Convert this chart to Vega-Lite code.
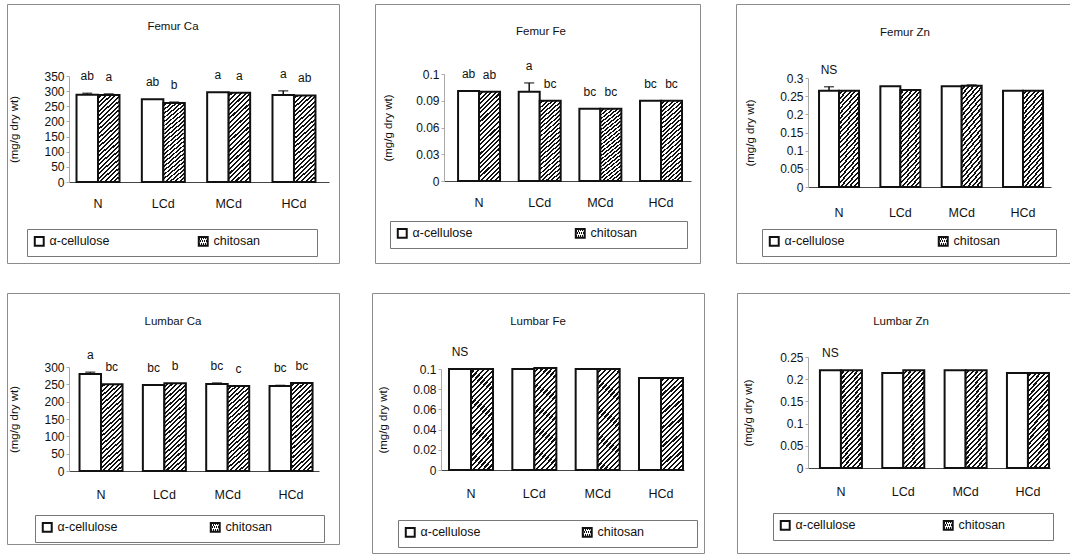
{
  "$schema": "https://vega.github.io/schema/vega-lite/v6.json",
  "padding": {"left": 6, "top": 3, "right": 0, "bottom": 0},
  "params": [
    {"name": "hatch", "value": {"gradient": "linear", "x1": 0, "y1": 0, "x2": 0.272, "y2": 1.17, "stops": [
      {"offset":0,"color":"#fff"},{"offset":0.0229,"color":"#fff"},{"offset":0.0229,"color":"#111"},{"offset":0.0417,"color":"#111"},
      {"offset":0.0417,"color":"#fff"},{"offset":0.0646,"color":"#fff"},{"offset":0.0646,"color":"#111"},{"offset":0.0833,"color":"#111"},
      {"offset":0.0833,"color":"#fff"},{"offset":0.1063,"color":"#fff"},{"offset":0.1063,"color":"#111"},{"offset":0.125,"color":"#111"},
      {"offset":0.125,"color":"#fff"},{"offset":0.1479,"color":"#fff"},{"offset":0.1479,"color":"#111"},{"offset":0.1667,"color":"#111"},
      {"offset":0.1667,"color":"#fff"},{"offset":0.1896,"color":"#fff"},{"offset":0.1896,"color":"#111"},{"offset":0.2083,"color":"#111"},
      {"offset":0.2083,"color":"#fff"},{"offset":0.2313,"color":"#fff"},{"offset":0.2313,"color":"#111"},{"offset":0.25,"color":"#111"},
      {"offset":0.25,"color":"#fff"},{"offset":0.2729,"color":"#fff"},{"offset":0.2729,"color":"#111"},{"offset":0.2917,"color":"#111"},
      {"offset":0.2917,"color":"#fff"},{"offset":0.3146,"color":"#fff"},{"offset":0.3146,"color":"#111"},{"offset":0.3333,"color":"#111"},
      {"offset":0.3333,"color":"#fff"},{"offset":0.3563,"color":"#fff"},{"offset":0.3563,"color":"#111"},{"offset":0.375,"color":"#111"},
      {"offset":0.375,"color":"#fff"},{"offset":0.3979,"color":"#fff"},{"offset":0.3979,"color":"#111"},{"offset":0.4167,"color":"#111"},
      {"offset":0.4167,"color":"#fff"},{"offset":0.4396,"color":"#fff"},{"offset":0.4396,"color":"#111"},{"offset":0.4583,"color":"#111"},
      {"offset":0.4583,"color":"#fff"},{"offset":0.4813,"color":"#fff"},{"offset":0.4813,"color":"#111"},{"offset":0.5,"color":"#111"},
      {"offset":0.5,"color":"#fff"},{"offset":0.5229,"color":"#fff"},{"offset":0.5229,"color":"#111"},{"offset":0.5417,"color":"#111"},
      {"offset":0.5417,"color":"#fff"},{"offset":0.5646,"color":"#fff"},{"offset":0.5646,"color":"#111"},{"offset":0.5833,"color":"#111"},
      {"offset":0.5833,"color":"#fff"},{"offset":0.6063,"color":"#fff"},{"offset":0.6063,"color":"#111"},{"offset":0.625,"color":"#111"},
      {"offset":0.625,"color":"#fff"},{"offset":0.6479,"color":"#fff"},{"offset":0.6479,"color":"#111"},{"offset":0.6667,"color":"#111"},
      {"offset":0.6667,"color":"#fff"},{"offset":0.6896,"color":"#fff"},{"offset":0.6896,"color":"#111"},{"offset":0.7083,"color":"#111"},
      {"offset":0.7083,"color":"#fff"},{"offset":0.7313,"color":"#fff"},{"offset":0.7313,"color":"#111"},{"offset":0.75,"color":"#111"},
      {"offset":0.75,"color":"#fff"},{"offset":0.7729,"color":"#fff"},{"offset":0.7729,"color":"#111"},{"offset":0.7917,"color":"#111"},
      {"offset":0.7917,"color":"#fff"},{"offset":0.8146,"color":"#fff"},{"offset":0.8146,"color":"#111"},{"offset":0.8333,"color":"#111"},
      {"offset":0.8333,"color":"#fff"},{"offset":0.8563,"color":"#fff"},{"offset":0.8563,"color":"#111"},{"offset":0.875,"color":"#111"},
      {"offset":0.875,"color":"#fff"},{"offset":0.8979,"color":"#fff"},{"offset":0.8979,"color":"#111"},{"offset":0.9167,"color":"#111"},
      {"offset":0.9167,"color":"#fff"},{"offset":0.9396,"color":"#fff"},{"offset":0.9396,"color":"#111"},{"offset":0.9583,"color":"#111"},
      {"offset":0.9583,"color":"#fff"},{"offset":0.9813,"color":"#fff"},{"offset":0.9813,"color":"#111"},{"offset":1,"color":"#111"}
    ]}}
  ],
  "datasets": {
    "fca": [
      {"g":"N","d":"α-cellulose","v":288,"hi":293,"lab":"ab"},
      {"g":"N","d":"chitosan","v":287,"hi":291,"lab":"a"},
      {"g":"LCd","d":"α-cellulose","v":273,"hi":273,"lab":"ab"},
      {"g":"LCd","d":"chitosan","v":261,"hi":264,"lab":"b"},
      {"g":"MCd","d":"α-cellulose","v":296,"hi":296,"lab":"a"},
      {"g":"MCd","d":"chitosan","v":295,"hi":295,"lab":"a"},
      {"g":"HCd","d":"α-cellulose","v":287,"hi":301,"lab":"a"},
      {"g":"HCd","d":"chitosan","v":286,"hi":286,"lab":"ab"}
    ],
    "ffe": [
      {"g":"N","d":"α-cellulose","v":0.101,"hi":0.101,"lab":"ab"},
      {"g":"N","d":"chitosan","v":0.1,"hi":0.1,"lab":"ab"},
      {"g":"LCd","d":"α-cellulose","v":0.1,"hi":0.11,"lab":"a"},
      {"g":"LCd","d":"chitosan","v":0.09,"hi":0.09,"lab":"bc"},
      {"g":"MCd","d":"α-cellulose","v":0.081,"hi":0.081,"lab":"bc"},
      {"g":"MCd","d":"chitosan","v":0.081,"hi":0.081,"lab":"bc"},
      {"g":"HCd","d":"α-cellulose","v":0.09,"hi":0.09,"lab":"bc"},
      {"g":"HCd","d":"chitosan","v":0.09,"hi":0.09,"lab":"bc"}
    ],
    "fzn": [
      {"g":"N","d":"α-cellulose","v":0.265,"hi":0.276,"lab":"NS"},
      {"g":"N","d":"chitosan","v":0.265,"hi":0.265},
      {"g":"LCd","d":"α-cellulose","v":0.277,"hi":0.277},
      {"g":"LCd","d":"chitosan","v":0.267,"hi":0.267},
      {"g":"MCd","d":"α-cellulose","v":0.277,"hi":0.277},
      {"g":"MCd","d":"chitosan","v":0.279,"hi":0.281},
      {"g":"HCd","d":"α-cellulose","v":0.265,"hi":0.265},
      {"g":"HCd","d":"chitosan","v":0.265,"hi":0.265}
    ],
    "lca": [
      {"g":"N","d":"α-cellulose","v":280,"hi":285,"lab":"a"},
      {"g":"N","d":"chitosan","v":250,"hi":250,"lab":"bc"},
      {"g":"LCd","d":"α-cellulose","v":248,"hi":248,"lab":"bc"},
      {"g":"LCd","d":"chitosan","v":253,"hi":253,"lab":"b"},
      {"g":"MCd","d":"α-cellulose","v":251,"hi":254,"lab":"bc"},
      {"g":"MCd","d":"chitosan","v":245,"hi":245,"lab":"c"},
      {"g":"HCd","d":"α-cellulose","v":245,"hi":247,"lab":"bc"},
      {"g":"HCd","d":"chitosan","v":254,"hi":254,"lab":"bc"}
    ],
    "lfe": [
      {"g":"N","d":"α-cellulose","v":0.1,"hi":0.1,"lab":"NS"},
      {"g":"N","d":"chitosan","v":0.1,"hi":0.1},
      {"g":"LCd","d":"α-cellulose","v":0.1,"hi":0.1},
      {"g":"LCd","d":"chitosan","v":0.101,"hi":0.101},
      {"g":"MCd","d":"α-cellulose","v":0.1,"hi":0.1},
      {"g":"MCd","d":"chitosan","v":0.1,"hi":0.1},
      {"g":"HCd","d":"α-cellulose","v":0.091,"hi":0.091},
      {"g":"HCd","d":"chitosan","v":0.091,"hi":0.091}
    ],
    "lzn": [
      {"g":"N","d":"α-cellulose","v":0.22,"hi":0.22,"lab":"NS"},
      {"g":"N","d":"chitosan","v":0.22,"hi":0.22},
      {"g":"LCd","d":"α-cellulose","v":0.214,"hi":0.214},
      {"g":"LCd","d":"chitosan","v":0.22,"hi":0.22},
      {"g":"MCd","d":"α-cellulose","v":0.22,"hi":0.22},
      {"g":"MCd","d":"chitosan","v":0.22,"hi":0.22},
      {"g":"HCd","d":"α-cellulose","v":0.214,"hi":0.214},
      {"g":"HCd","d":"chitosan","v":0.214,"hi":0.214}
    ]
  },
  "resolve": {"scale": {"fill": "independent", "xOffset": "independent"}, "legend": {"fill": "independent"}},
  "spacing": 28,
  "vconcat": [
    {
      "spacing": 34,
      "resolve": {"scale": {"fill": "independent", "xOffset": "independent"}, "legend": {"fill": "independent"}},
      "hconcat": [
        {
          "width": 332, "height": 259,
          "data": {"name": "fca"},
          "title": {"text": "Femur Ca", "offset": -28.5},
          "encoding": {
            "x": {"field": "g", "type": "nominal", "sort": ["N","LCd","MCd","HCd"], "title": null,
                  "scale": {"range": [62, 322], "paddingInner": 0.342, "paddingOuter": 0.161, "align": 0.357},
                  "axis": {"offset": -81, "labelPadding": 15}},
            "xOffset": {"field": "d", "type": "nominal", "sort": ["α-cellulose","chitosan"], "scale": {"paddingInner": 0, "paddingOuter": 0}},
            "y": {"field": "v", "type": "quantitative", "title": "(mg/g dry wt)",
                  "scale": {"domain": [0, 350], "range": [178, 72], "nice": false},
                  "axis": {"offset": -62, "values": [0,50,100,150,200,250,300,350], "format": "~r", "titleX": -55, "titleY": 125}}
          },
          "layer": [
            {"mark": "bar",
             "encoding": {"fill": {"field": "d", "type": "nominal",
               "scale": {"domain": ["α-cellulose","chitosan"], "range": ["white", {"expr": "hatch"}]},
               "legend": {"legendX": 20, "legendY": 225, "columnPadding": 84, "title": " ", "titleOrient": "right", "titlePadding": 51}}}},
            {"transform": [{"filter": "datum.hi > datum.v"}], "mark": "rule", "encoding": {"y2": {"field": "hi"}}},
            {"transform": [{"filter": "datum.hi > datum.v"}], "mark": {"type": "tick", "orient": "horizontal", "size": 10},
             "encoding": {"y": {"field": "hi", "type": "quantitative", "title": "(mg/g dry wt)",
                  "scale": {"domain": [0, 350], "range": [178, 72], "nice": false},
                  "axis": {"offset": -62, "values": [0,50,100,150,200,250,300,350], "format": "~r", "titleX": -55, "titleY": 125}}}},
            {"transform": [{"filter": "isValid(datum.lab)"}], "mark": {"type": "text", "dy": -17},
             "encoding": {"text": {"field": "lab"}, "y": {"field": "hi", "type": "quantitative", "title": "(mg/g dry wt)",
                  "scale": {"domain": [0, 350], "range": [178, 72], "nice": false},
                  "axis": {"offset": -62, "values": [0,50,100,150,200,250,300,350], "format": "~r", "titleX": -55, "titleY": 125}}}}
          ]
        },
        {
          "width": 325, "height": 259,
          "data": {"name": "ffe"},
          "title": {"text": "Femur Fe", "offset": -33.5, "dx": 3.5},
          "encoding": {
            "x": {"field": "g", "type": "nominal", "sort": ["N","LCd","MCd","HCd"], "title": null,
                  "scale": {"range": [69, 316], "paddingInner": 0.308, "paddingOuter": 0.19, "align": 0.61},
                  "axis": {"offset": -82, "labelPadding": 15}},
            "xOffset": {"field": "d", "type": "nominal", "sort": ["α-cellulose","chitosan"], "scale": {"paddingInner": 0, "paddingOuter": 0}},
            "y": {"field": "v", "type": "quantitative", "title": "(mg/g dry wt)",
                  "scale": {"domain": [0, 0.12], "range": [177, 70], "nice": false},
                  "axis": {"offset": -69, "values": [0,0.03,0.06,0.09,0.12], "format": "~r", "titleX": -56, "titleY": 123.5}}
          },
          "layer": [
            {"mark": "bar",
             "encoding": {"fill": {"field": "d", "type": "nominal",
               "scale": {"domain": ["α-cellulose","chitosan"], "range": ["white", {"expr": "hatch"}]},
               "legend": {"legendX": 15, "legendY": 217, "columnPadding": 98, "title": " ", "titleOrient": "right", "titlePadding": 44}}}},
            {"transform": [{"filter": "datum.hi > datum.v"}], "mark": "rule", "encoding": {"y2": {"field": "hi"}}},
            {"transform": [{"filter": "datum.hi > datum.v"}], "mark": {"type": "tick", "orient": "horizontal", "size": 10},
             "encoding": {"y": {"field": "hi", "type": "quantitative", "title": "(mg/g dry wt)",
                  "scale": {"domain": [0, 0.12], "range": [177, 70], "nice": false},
                  "axis": {"offset": -69, "values": [0,0.03,0.06,0.09,0.12], "format": "~r", "titleX": -56, "titleY": 123.5}}}},
            {"transform": [{"filter": "isValid(datum.lab)"}], "mark": {"type": "text", "dy": -17},
             "encoding": {"text": {"field": "lab"}, "y": {"field": "hi", "type": "quantitative", "title": "(mg/g dry wt)",
                  "scale": {"domain": [0, 0.12], "range": [177, 70], "nice": false},
                  "axis": {"offset": -69, "values": [0,0.03,0.06,0.09,0.12], "format": "~r", "titleX": -56, "titleY": 123.5}}}}
          ]
        },
        {
          "width": 335, "height": 259,
          "data": {"name": "fzn"},
          "title": {"text": "Femur Zn", "offset": -34.5, "dx": 1.5},
          "encoding": {
            "x": {"field": "g", "type": "nominal", "sort": ["N","LCd","MCd","HCd"], "title": null,
                  "scale": {"range": [72, 315], "paddingInner": 0.348, "paddingOuter": 0.155, "align": 0.58},
                  "axis": {"offset": -76, "labelPadding": 19}},
            "xOffset": {"field": "d", "type": "nominal", "sort": ["α-cellulose","chitosan"], "scale": {"paddingInner": 0, "paddingOuter": 0}},
            "y": {"field": "v", "type": "quantitative", "title": "(mg/g dry wt)",
                  "scale": {"domain": [0, 0.3], "range": [183, 74], "nice": false},
                  "axis": {"offset": -72, "values": [0,0.05,0.1,0.15,0.2,0.25,0.3], "format": "~r", "titleX": -58, "titleY": 128.5}}
          },
          "layer": [
            {"mark": "bar",
             "encoding": {"fill": {"field": "d", "type": "nominal",
               "scale": {"domain": ["α-cellulose","chitosan"], "range": ["white", {"expr": "hatch"}]},
               "legend": {"legendX": 26, "legendY": 225, "columnPadding": 89, "title": " ", "titleOrient": "right", "titlePadding": 50}}}},
            {"transform": [{"filter": "datum.hi > datum.v"}], "mark": "rule", "encoding": {"y2": {"field": "hi"}}},
            {"transform": [{"filter": "datum.hi > datum.v"}], "mark": {"type": "tick", "orient": "horizontal", "size": 10},
             "encoding": {"y": {"field": "hi", "type": "quantitative", "title": "(mg/g dry wt)",
                  "scale": {"domain": [0, 0.3], "range": [183, 74], "nice": false},
                  "axis": {"offset": -72, "values": [0,0.05,0.1,0.15,0.2,0.25,0.3], "format": "~r", "titleX": -58, "titleY": 128.5}}}},
            {"transform": [{"filter": "isValid(datum.lab)"}], "mark": {"type": "text", "dy": -17},
             "encoding": {"text": {"field": "lab"}, "y": {"field": "hi", "type": "quantitative", "title": "(mg/g dry wt)",
                  "scale": {"domain": [0, 0.3], "range": [183, 74], "nice": false},
                  "axis": {"offset": -72, "values": [0,0.05,0.1,0.15,0.2,0.25,0.3], "format": "~r", "titleX": -58, "titleY": 128.5}}}}
          ]
        }
      ]
    },
    {
      "spacing": 31,
      "resolve": {"scale": {"fill": "independent", "xOffset": "independent"}, "legend": {"fill": "independent"}},
      "hconcat": [
        {
          "width": 332, "height": 251,
          "data": {"name": "lca"},
          "title": {"text": "Lumbar Ca", "offset": -34.5},
          "encoding": {
            "x": {"field": "g", "type": "nominal", "sort": ["N","LCd","MCd","HCd"], "title": null,
                  "scale": {"range": [62, 312], "paddingInner": 0.321, "paddingOuter": 0.134, "align": 0.62},
                  "axis": {"offset": -73, "labelPadding": 17}},
            "xOffset": {"field": "d", "type": "nominal", "sort": ["α-cellulose","chitosan"], "scale": {"paddingInner": 0, "paddingOuter": 0}},
            "y": {"field": "v", "type": "quantitative", "title": "(mg/g dry wt)",
                  "scale": {"domain": [0, 300], "range": [178, 74], "nice": false},
                  "axis": {"offset": -62, "values": [0,50,100,150,200,250,300], "format": "~r", "titleX": -55, "titleY": 126}}
          },
          "layer": [
            {"mark": "bar",
             "encoding": {"fill": {"field": "d", "type": "nominal",
               "scale": {"domain": ["α-cellulose","chitosan"], "range": ["white", {"expr": "hatch"}]},
               "legend": {"legendX": 28, "legendY": 222, "columnPadding": 88, "title": " ", "titleOrient": "right", "titlePadding": 46}}}},
            {"transform": [{"filter": "datum.hi > datum.v"}], "mark": "rule", "encoding": {"y2": {"field": "hi"}}},
            {"transform": [{"filter": "datum.hi > datum.v"}], "mark": {"type": "tick", "orient": "horizontal", "size": 10},
             "encoding": {"y": {"field": "hi", "type": "quantitative", "title": "(mg/g dry wt)",
                  "scale": {"domain": [0, 300], "range": [178, 74], "nice": false},
                  "axis": {"offset": -62, "values": [0,50,100,150,200,250,300], "format": "~r", "titleX": -55, "titleY": 126}}}},
            {"transform": [{"filter": "isValid(datum.lab)"}], "mark": {"type": "text", "dy": -17},
             "encoding": {"text": {"field": "lab"}, "y": {"field": "hi", "type": "quantitative", "title": "(mg/g dry wt)",
                  "scale": {"domain": [0, 300], "range": [178, 74], "nice": false},
                  "axis": {"offset": -62, "values": [0,50,100,150,200,250,300], "format": "~r", "titleX": -55, "titleY": 126}}}}
          ]
        },
        {
          "width": 332, "height": 260,
          "data": {"name": "lfe"},
          "title": {"text": "Lumbar Fe", "offset": -34.5},
          "encoding": {
            "x": {"field": "g", "type": "nominal", "sort": ["N","LCd","MCd","HCd"], "title": null,
                  "scale": {"range": [69, 312], "paddingInner": 0.305, "paddingOuter": 0.071, "align": 0.89},
                  "axis": {"offset": -83, "labelPadding": 17}},
            "xOffset": {"field": "d", "type": "nominal", "sort": ["α-cellulose","chitosan"], "scale": {"paddingInner": 0, "paddingOuter": 0}},
            "y": {"field": "v", "type": "quantitative", "title": "(mg/g dry wt)",
                  "scale": {"domain": [0, 0.1], "range": [177, 76], "nice": false},
                  "axis": {"offset": -69, "values": [0,0.02,0.04,0.06,0.08,0.1], "format": "~r", "titleX": -58, "titleY": 126.5}}
          },
          "layer": [
            {"mark": "bar",
             "encoding": {"fill": {"field": "d", "type": "nominal",
               "scale": {"domain": ["α-cellulose","chitosan"], "range": ["white", {"expr": "hatch"}]},
               "legend": {"legendX": 26, "legendY": 227, "columnPadding": 97, "title": " ", "titleOrient": "right", "titlePadding": 47}}}},
            {"transform": [{"filter": "datum.hi > datum.v"}], "mark": "rule", "encoding": {"y2": {"field": "hi"}}},
            {"transform": [{"filter": "isValid(datum.lab)"}], "mark": {"type": "text", "dy": -17},
             "encoding": {"text": {"field": "lab"}, "y": {"field": "hi", "type": "quantitative", "title": "(mg/g dry wt)",
                  "scale": {"domain": [0, 0.1], "range": [177, 76], "nice": false},
                  "axis": {"offset": -69, "values": [0,0.02,0.04,0.06,0.08,0.1], "format": "~r", "titleX": -58, "titleY": 126.5}}}}
          ]
        },
        {
          "width": 335, "height": 260,
          "data": {"name": "lzn"},
          "title": {"text": "Lumbar Zn", "offset": -34.5, "dx": -3.5},
          "encoding": {
            "x": {"field": "g", "type": "nominal", "sort": ["N","LCd","MCd","HCd"], "title": null,
                  "scale": {"range": [71, 313], "paddingInner": 0.326, "paddingOuter": 0.104, "align": 0.92},
                  "axis": {"offset": -85, "labelPadding": 17}},
            "xOffset": {"field": "d", "type": "nominal", "sort": ["α-cellulose","chitosan"], "scale": {"paddingInner": 0, "paddingOuter": 0}},
            "y": {"field": "v", "type": "quantitative", "title": "(mg/g dry wt)",
                  "scale": {"domain": [0, 0.25], "range": [175, 64], "nice": false},
                  "axis": {"offset": -71, "values": [0,0.05,0.1,0.15,0.2,0.25], "format": "~r", "titleX": -60, "titleY": 119.5}}
          },
          "layer": [
            {"mark": "bar",
             "encoding": {"fill": {"field": "d", "type": "nominal",
               "scale": {"domain": ["α-cellulose","chitosan"], "range": ["white", {"expr": "hatch"}]},
               "legend": {"legendX": 36, "legendY": 220, "columnPadding": 83, "title": " ", "titleOrient": "right", "titlePadding": 42}}}},
            {"transform": [{"filter": "datum.hi > datum.v"}], "mark": "rule", "encoding": {"y2": {"field": "hi"}}},
            {"transform": [{"filter": "isValid(datum.lab)"}], "mark": {"type": "text", "dy": -17},
             "encoding": {"text": {"field": "lab"}, "y": {"field": "hi", "type": "quantitative", "title": "(mg/g dry wt)",
                  "scale": {"domain": [0, 0.25], "range": [175, 64], "nice": false},
                  "axis": {"offset": -71, "values": [0,0.05,0.1,0.15,0.2,0.25], "format": "~r", "titleX": -60, "titleY": 119.5}}}}
          ]
        }
      ]
    }
  ],
  "config": {
    "font": "Liberation Sans",
    "view": {"stroke": "#8c8c8c", "strokeWidth": 1},
    "axis": {"labelFont": "Liberation Sans", "labelFontSize": 12, "labelColor": "#111", "titleFont": "Liberation Sans", "titleFontSize": 11.5, "titleFontWeight": "normal", "titleColor": "#111", "grid": false},
    "axisX": {"ticks": false, "tickSize": 0, "domainColor": "#444", "domainWidth": 1, "labelAngle": 0, "labelFontSize": 12.5},
    "axisY": {"domainColor": "#aaa", "tickColor": "#aaa", "tickSize": 3, "labelPadding": 2, "titleAngle": -90, "titleAlign": "center", "titleBaseline": "middle", "titlePadding": 0},
    "legend": {"orient": "none", "columns": 2, "symbolType": "square", "symbolSize": 80, "symbolOffset": 0, "labelOffset": 4, "symbolStrokeColor": "#111", "symbolStrokeWidth": 2, "labelFont": "Liberation Sans", "labelFontSize": 12.5, "labelColor": "#111", "strokeColor": "#777", "fillColor": "#fff", "padding": 6, "titleFontSize": 12},
    "title": {"font": "Liberation Sans", "fontSize": 11.5, "fontWeight": "normal", "color": "#111", "anchor": "middle", "frame": "group"},
    "bar": {"stroke": "#111", "strokeWidth": 2},
    "rule": {"color": "#111", "strokeWidth": 1.5},
    "tick": {"color": "#111", "thickness": 1.5},
    "text": {"font": "Liberation Sans", "fontSize": 12, "color": "#111"}
  }
}
